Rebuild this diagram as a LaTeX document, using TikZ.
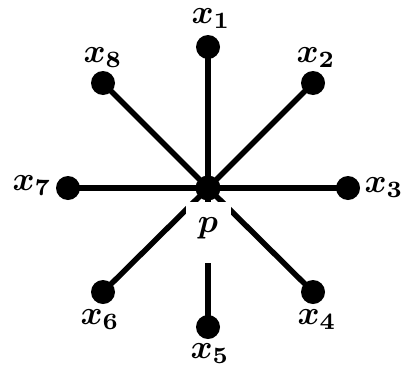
\documentclass[tikz,border=0pt]{standalone}
\usepackage{graphicx}
\usepackage{amsmath,bm}
\newcommand\mylab[1]{\scalebox{3.35}{\boldmath$#1$}}
\begin{document}
\begin{tikzpicture}[x=1pt,y=-1pt,
  vert/.style={circle,fill=black,inner sep=0pt,minimum size=24pt},
  hub/.style={circle,fill=black,inner sep=0pt,minimum size=25pt},
  edge/.style={line width=5.5pt},
  lab/.style={inner sep=0pt}]
\useasboundingbox (0,0) rectangle (403,372);
\node[hub] (p) at (208,188) {};
\node[vert] (x1) at (208,47) {};
\node[vert] (x2) at (313,83) {};
\node[vert] (x3) at (348,188) {};
\node[vert] (x4) at (313,292) {};
\node[vert] (x5) at (208,327) {};
\node[vert] (x6) at (103,292) {};
\node[vert] (x7) at (68,188) {};
\node[vert] (x8) at (103,83) {};
\foreach \i in {1,...,8} \draw[edge] (p.center) -- (x\i.center);
\node[fill=white,inner sep=0pt,minimum width=45pt,minimum height=61pt] (pbox) at (208,232) {};
\node[lab] (pl) at (208,228) {\mylab{p}};
\node[lab] (l1) at (211,19) {\mylab{x_1}};
\node[lab] (l2) at (316,58) {\mylab{x_2}};
\node[lab] (l3) at (384,188) {\mylab{x_3}};
\node[lab] (l4) at (317,320) {\mylab{x_4}};
\node[lab] (l5) at (210,354) {\mylab{x_5}};
\node[lab] (l6) at (100,320) {\mylab{x_6}};
\node[lab] (l7) at (32,186) {\mylab{x_7}};
\node[lab] (l8) at (103,58) {\mylab{x_8}};
\end{tikzpicture}
\end{document}
